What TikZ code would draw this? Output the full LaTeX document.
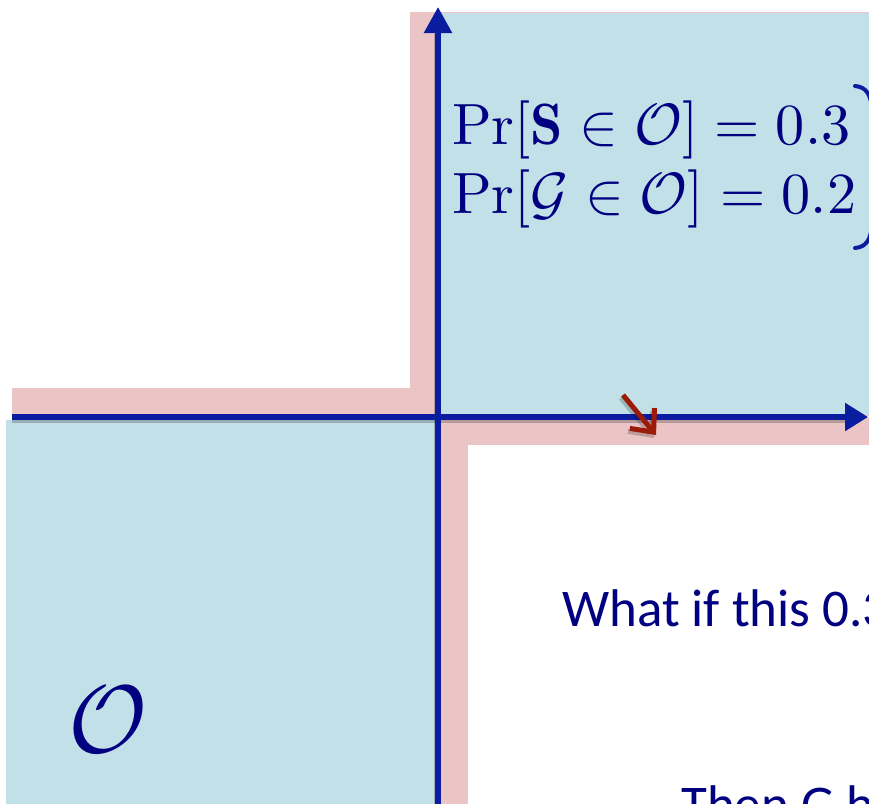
\documentclass[tikz,border=0pt]{standalone}
\usepackage{graphicx}
\usepackage{fontspec}
\newfontfamily\calibri{Carlito}
\usetikzlibrary{arrows.meta}
\definecolor{bluefill}{RGB}{193,224,232}
\definecolor{pinkfill}{RGB}{235,197,197}
\definecolor{axisblue}{RGB}{10,28,160}
\definecolor{navytext}{RGB}{0,0,128}
\definecolor{redarrow}{RGB}{155,26,10}
\tikzset{
  axisline/.style={draw=axisblue, line width=5.5pt},
  axisshadow/.style={draw=black, opacity=0.22, line width=5pt},
  redarr/.style={draw=redarrow, line width=5pt, -{Straight Barb[length=18pt,width=32pt]}},
  mathtxt/.style={text=navytext, inner sep=0pt},
  sanstxt/.style={text=navytext, inner sep=0pt, font=\calibri\fontsize{53}{64}\selectfont},
  bigcal/.style={text=navytext, inner sep=0pt},
  bracestyle/.style={draw=axisblue, line width=4pt, line cap=round}
}
\begin{document}
\begin{tikzpicture}[x=1pt,y=-1pt]
\useasboundingbox (0,0) rectangle (869,803);
\clip (0,0) rectangle (869,803);
% pink bands
\fill[pinkfill] (410,12) rectangle (869,416);
\fill[pinkfill] (12,388) rectangle (438,416);
\fill[pinkfill] (438,417) rectangle (869,445);
\fill[pinkfill] (438,417) rectangle (468,810);
% blue regions
\fill[bluefill] (441,13) rectangle (869,415);
\fill[bluefill] (6,420) rectangle (435,810);
% coordinates
\coordinate (vbot) at (438,810);
\coordinate (vtop) at (438,7);
\coordinate (hleft) at (12,417);
\coordinate (hright) at (868,417);
\coordinate (vbots) at (436,810);
\coordinate (vtops) at (436,34);
\coordinate (hlefts) at (12,420);
\coordinate (hrights) at (846,420);
\coordinate (rs) at (623,395);
\coordinate (re) at (656,435);
\coordinate (rss) at (621,398);
\coordinate (ress) at (654,438);
% shadows
\draw[axisshadow] (vbots) -- (vtops);
\draw[axisshadow] (hlefts) -- (hrights);
% axes
\draw[axisline, -{Triangle[length=26pt,width=27pt]}] (vbot) -- (vtop);
\draw[axisline, -{Triangle[length=23pt,width=27pt]}] (hleft) -- (hright);
% red arrow
\draw[redarr, draw=black, opacity=0.2] (rss) -- (ress);
\draw[redarr] (rs) -- (re);
% text
\node[mathtxt, anchor=base west] (l1) at (452,144) {\scalebox{5.82}{$\Pr[\mathbf{S}\in\mathcal{O}] = 0.3$}};
\node[mathtxt, anchor=base west] (l2) at (452,213) {\scalebox{5.82}{$\Pr[\mathcal{G}\in\mathcal{O}] = 0.2$}};
\node[bigcal, anchor=center] (O) at (108,720) {\scalebox{9.6}{$\mathcal{O}$}};
\node[sanstxt, anchor=base west] (q1) at (562,626) {What if this 0.3};
\node[sanstxt, anchor=base west] (q2) at (681,822) {Then G has};
% brace (cut at the edge)
\coordinate (bt) at (855,86);
\coordinate (bb) at (855,248);
\draw[bracestyle] (bt) .. controls (866,87) and (871,94) .. (872,110);
\draw[bracestyle] (bb) .. controls (866,247) and (871,240) .. (872,224);
\end{tikzpicture}
\end{document}
